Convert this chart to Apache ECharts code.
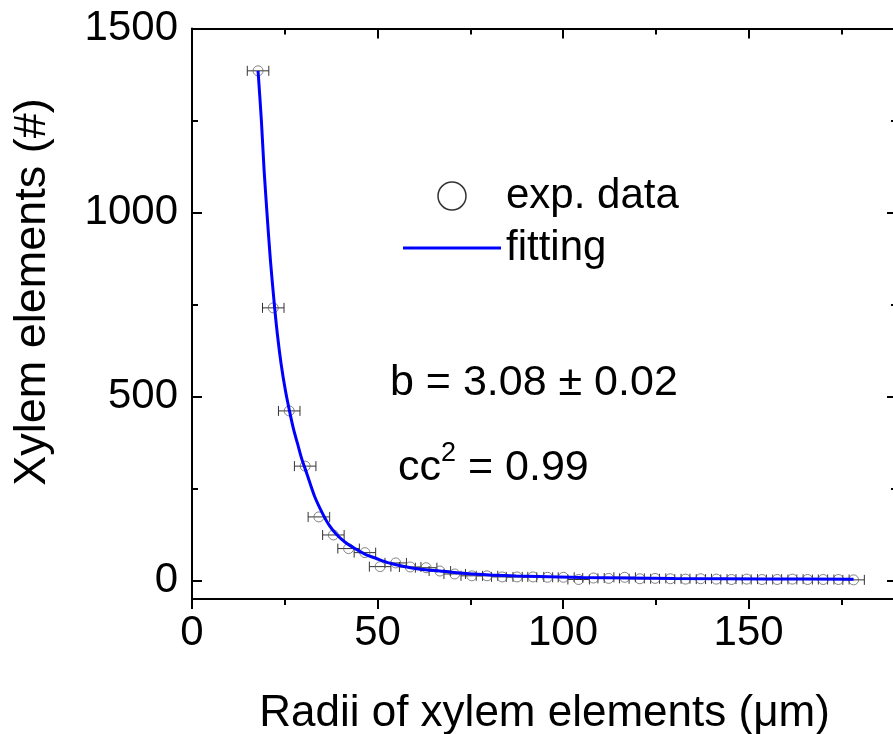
<!DOCTYPE html>
<html>
<head>
<meta charset="utf-8">
<script src="https://cdn.jsdelivr.net/npm/echarts@6/dist/echarts.min.js"></script>
<style>html,body{margin:0;padding:0;background:#fff;}#c{width:893px;height:734px;}</style>
</head>
<body>
<div id="c"></div>
<script>
// ---- data ----
const radii = [17.8, 21.9, 26.2, 30.5, 34.2, 38.1, 42.2, 46.6, 50.7, 54.9, 58.8, 63.1, 66.8, 70.8, 75.4, 79.5, 83.6, 87.6, 91.9, 95.8, 100.1, 104.2, 108.2, 112.3, 116.6, 120.7, 124.8, 128.9, 133.0, 137.1, 141.3, 145.4, 149.5, 153.6, 157.7, 161.8, 165.9, 170.1, 174.2, 178.3];
const counts = [1385, 741, 461, 311, 173, 124, 87, 76, 38, 48, 37, 35, 26, 18, 13, 13, 10, 10, 10, 9, 9, 3, 7, 6, 9, 5, 6, 5, 4, 5, 4, 3, 4, 3, 3, 4, 3, 3, 3, 2];
const radiiErr = [2.9, 2.9, 2.9, 2.9, 2.9, 2.9, 2.9, 2.9, 2.9, 2.9, 2.9, 2.9, 2.9, 2.9, 2.9, 2.9, 2.9, 2.9, 2.9, 2.9, 2.9, 2.9, 2.9, 2.9, 2.9, 2.9, 2.9, 2.9, 2.9, 2.9, 2.9, 2.9, 2.9, 2.9, 2.9, 2.9, 2.9, 2.9, 2.9, 2.9];
const fitX = [17.8, 18.7, 19.4, 20.2, 21.1, 22.1, 23, 24, 25.2, 26.4, 27.4, 28.5, 29.6, 30.8, 33, 35.3, 37, 38.9, 41.2, 43.9, 46.6, 49.7, 53, 56.8, 61.5, 66.8, 75.7, 87.4, 105, 130, 155, 178.3];
const fitY = [1385, 1250, 1120, 1000, 875, 760, 670, 590, 515, 455, 410, 370, 330, 295, 230, 180, 150, 126, 105, 87, 72, 60, 48, 39, 31, 26, 18, 12.5, 8.5, 6, 4.5, 3.5];
const xMajor = [0, 50, 100, 150];
const xMinor = [25, 75, 125, 175];
const yMajor = [0, 500, 1000, 1500];
const yMinor = [250, 750, 1250];
const xRange = [0, 190];
const yRange = [-50, 1500];

const FONT = '"Liberation Sans", Arial, sans-serif';

function xAx(pos, ticks, len, inside, showLine, showLabel, extra) {
  return Object.assign({
    type: 'value', gridIndex: 0, position: pos, min: xRange[0], max: xRange[1],
    axisLine: { show: showLine, onZero: false, lineStyle: { color: '#000', width: 2 } },
    axisTick: { show: true, inside: inside, length: len, customValues: ticks, lineStyle: { color: '#000', width: 2 } },
    axisLabel: { show: showLabel, customValues: ticks, fontSize: 42, color: '#000', fontFamily: FONT, margin: 13,
      formatter: function (v) { return String(v); } },
    splitLine: { show: false }, minorTick: { show: false }
  }, extra || {});
}
function yAx(pos, ticks, len, showLine, showLabel) {
  return {
    type: 'value', gridIndex: 0, position: pos, min: yRange[0], max: yRange[1],
    axisLine: { show: showLine, onZero: false, lineStyle: { color: '#000', width: 2 } },
    axisTick: { show: true, inside: true, length: len, customValues: ticks, lineStyle: { color: '#000', width: 2 } },
    axisLabel: { show: showLabel, customValues: ticks, fontSize: 42, color: '#000', fontFamily: FONT, margin: 14,
      formatter: function (v) { return String(v); } },
    splitLine: { show: false }, minorTick: { show: false }
  };
}

const chart = echarts.init(document.getElementById('c'), null, { renderer: 'canvas' });
chart.setOption({
  backgroundColor: '#fff',
  animation: false,
  grid: { left: 192, right: -4, top: 28.5, bottom: 135, containLabel: false, outerBoundsMode: 'none' },
  xAxis: [
    xAx('bottom', xMajor, 10, false, true, true, {
      name: 'Radii of xylem elements (μm)', nameLocation: 'middle', nameGap: 93,
      nameTextStyle: { fontSize: 44, color: '#000', fontFamily: FONT }
    }),
    xAx('bottom', xMinor, 6, false, false, false),
    xAx('top', xMajor, 10, true, true, false),
    xAx('top', xMinor, 6, true, false, false)
  ],
  yAxis: [
    yAx('left', yMajor, 10, true, true),
    yAx('left', yMinor, 6, false, false),
    yAx('right', yMajor, 10, true, false),
    yAx('right', yMinor, 6, false, false)
  ],
  legend: {
    orient: 'vertical', left: 398, top: 170, padding: 5, itemWidth: 98, itemHeight: 28, itemGap: 10,
    textStyle: { fontSize: 42, color: '#000', fontFamily: FONT },
    data: [
      { name: 'exp. data', icon: 'circle', itemStyle: { color: 'rgba(255,255,255,0)', borderColor: '#000', borderWidth: 1.5 } },
      { name: 'fitting', icon: 'path://M0,0H100V3H0Z', itemStyle: { color: '#0000ff', borderWidth: 0 } }
    ]
  },
  series: [
    {
      name: 'error', type: 'custom', xAxisIndex: 0, yAxisIndex: 0, z: 2,
      data: radii.map((x, i) => [x, counts[i], radiiErr[i]]),
      encode: { x: 0, y: 1 },
      renderItem: function (params, api) {
        const x = api.value(0), y = api.value(1), e = api.value(2);
        const a = api.coord([x - e, y]), b = api.coord([x + e, y]);
        const c = 5;
        const st = { stroke: '#333', lineWidth: 1 };
        return { type: 'group', children: [
          { type: 'line', shape: { x1: a[0], y1: a[1], x2: b[0], y2: b[1] }, style: st },
          { type: 'line', shape: { x1: a[0], y1: a[1] - c, x2: a[0], y2: a[1] + c }, style: st },
          { type: 'line', shape: { x1: b[0], y1: b[1] - c, x2: b[0], y2: b[1] + c }, style: st }
        ] };
      }
    },
    {
      name: 'exp. data', type: 'scatter', xAxisIndex: 0, yAxisIndex: 0, z: 3,
      symbol: 'circle', symbolSize: 10,
      itemStyle: { color: 'rgba(255,255,255,0)', borderColor: '#666', borderWidth: 1 },
      data: radii.map((x, i) => [x, counts[i]])
    },
    {
      name: 'fitting', type: 'line', xAxisIndex: 0, yAxisIndex: 0, z: 4,
      symbol: 'none', smooth: 0.3,
      lineStyle: { color: '#0000ff', width: 3 },
      itemStyle: { color: '#0000ff' },
      data: fitX.map((x, i) => [x, fitY[i]])
    }
  ],
  graphic: [
    { type: 'text', x: 33, y: 292, rotation: Math.PI / 2,
      style: { text: 'Xylem elements (#)', fontSize: 45, fontFamily: FONT, fill: '#000', align: 'center', verticalAlign: 'middle' } },
    { type: 'text', x: 390, y: 383,
      style: { text: 'b = 3.08 ± 0.02', fontSize: 43, fontFamily: FONT, fill: '#000', align: 'left', verticalAlign: 'middle' } },
    { type: 'text', x: 398, y: 465,
      style: { text: '{a|cc}{s|2}{a| = 0.99}', fontFamily: FONT, fill: '#000', align: 'left', verticalAlign: 'middle',
        rich: {
          a: { fontSize: 43, fontFamily: FONT, fill: '#000', lineHeight: 50, verticalAlign: 'bottom' },
          s: { fontSize: 27, fontFamily: FONT, fill: '#000', lineHeight: 50, verticalAlign: 'top' }
        } } }
  ]
});
</script>
</body>
</html>
